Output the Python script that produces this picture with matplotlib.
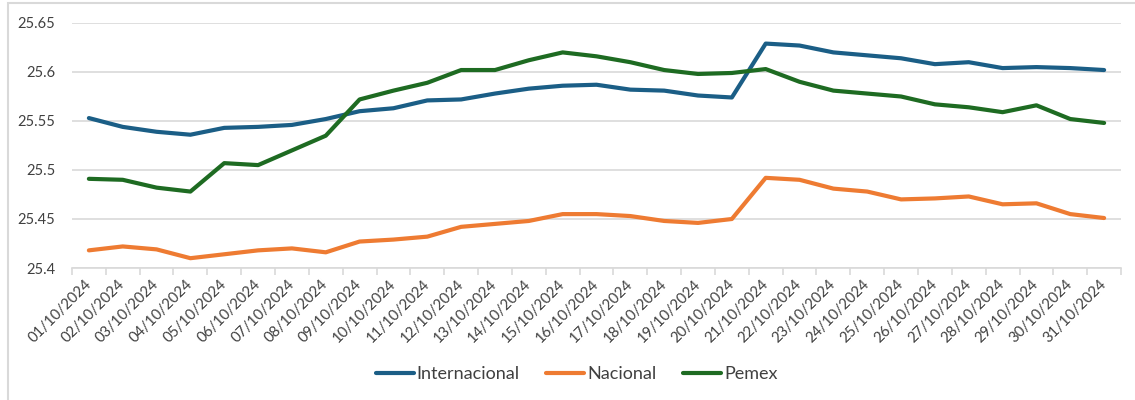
import matplotlib.pyplot as plt
from matplotlib.patches import Rectangle

# Daily values, October 2024
fechas = [f"{d:02d}/10/2024" for d in range(1, 32)]

internacional = [25.553, 25.544, 25.539, 25.536, 25.543, 25.544, 25.546, 25.552,
                 25.560, 25.563, 25.571, 25.572, 25.578, 25.583, 25.586, 25.587,
                 25.582, 25.581, 25.576, 25.574, 25.629, 25.627, 25.620, 25.617,
                 25.614, 25.608, 25.610, 25.604, 25.605, 25.604, 25.602]

nacional = [25.418, 25.422, 25.419, 25.410, 25.414, 25.418, 25.420, 25.416,
            25.427, 25.429, 25.432, 25.442, 25.445, 25.448, 25.455, 25.455,
            25.453, 25.448, 25.446, 25.450, 25.492, 25.490, 25.481, 25.478,
            25.470, 25.471, 25.473, 25.465, 25.466, 25.455, 25.451]

pemex = [25.491, 25.490, 25.482, 25.478, 25.507, 25.505, 25.520, 25.535,
         25.572, 25.581, 25.589, 25.602, 25.602, 25.612, 25.620, 25.616,
         25.610, 25.602, 25.598, 25.599, 25.603, 25.590, 25.581, 25.578,
         25.575, 25.567, 25.564, 25.559, 25.566, 25.552, 25.548]

plt.rcParams['font.family'] = ['Lato', 'DejaVu Sans']

fig = plt.figure(figsize=(11.35, 4.0), dpi=100)
ax = fig.add_axes([0.0634, 0.33, 0.9243, 0.6125])

x = range(len(fechas))
ax.plot(x, internacional, color='#1b5e86', lw=3, label='Internacional', solid_capstyle='round')
ax.plot(x, nacional, color='#ee7b32', lw=3, label='Nacional', solid_capstyle='round')
ax.plot(x, pemex, color='#1e6b22', lw=3, label='Pemex', solid_capstyle='round')

ax.set_ylim(25.4, 25.65)
ax.set_yticks([25.4, 25.45, 25.5, 25.55, 25.6, 25.65])
ax.set_yticklabels(['25.4', '25.45', '25.5', '25.55', '25.6', '25.65'])
ax.set_xlim(-0.5, len(fechas) - 0.5)
ax.set_xticks(list(x))
ax.set_xticklabels(fechas, rotation=45, ha='right', va='center', rotation_mode='anchor')
ax.set_xticks([i - 0.5 for i in range(len(fechas) + 1)], minor=True)

ax.grid(axis='y', color='#d9d9d9', lw=1.2)
ax.set_axisbelow(True)
for s in ['top', 'right', 'left']:
    ax.spines[s].set_visible(False)
ax.spines['bottom'].set_color('#d9d9d9')
ax.spines['bottom'].set_linewidth(1.2)

ax.tick_params(axis='y', length=0, pad=12, labelsize=10.5, labelcolor='#404040')
ax.tick_params(axis='x', which='major', length=0, pad=10, labelsize=10.7, labelcolor='#404040')
ax.tick_params(axis='x', which='minor', length=5, color='#d9d9d9', width=1.2)

fig.legend(loc='center', bbox_to_anchor=(0.508, 0.064), ncol=3, frameon=False,
           fontsize=13, handlelength=2.1, handletextpad=0.15, columnspacing=1.5,
           labelcolor='#404040')

# chart border
fig.patches.append(Rectangle((8 / 1135, -0.01), 1.1, 1.0025, transform=fig.transFigure,
                             fill=False, edgecolor='#d9d9d9', lw=1.5))

fig.savefig('out.png', dpi=100)
